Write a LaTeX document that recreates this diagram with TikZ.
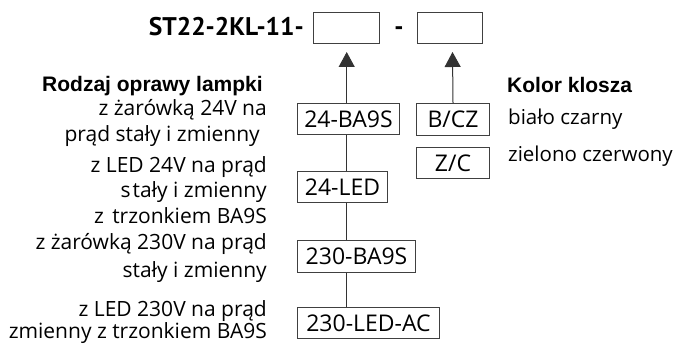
\documentclass[tikz,border=0pt]{standalone}
\usepackage{fontspec}
\setmainfont{Open Sans}
\newfontfamily\headfont{Liberation Sans}
\newfontfamily\titlefam{PT Sans}
\usetikzlibrary{arrows.meta}
\begin{document}
\begin{tikzpicture}[x=1pt,y=-1pt,
  box/.style={draw=black!75, line width=1pt, inner sep=0pt, anchor=north west, text=black, font=\fontsize{23}{23}\selectfont},
  lbl/.style={anchor=base east, inner sep=0pt, text=black, font=\fontsize{21}{21}\selectfont},
  rlbl/.style={anchor=base west, inner sep=0pt, text=black, font=\fontsize{20.5}{20.5}\selectfont},
  head/.style={anchor=base west, inner sep=0pt, text=black, font=\headfont\bfseries\fontsize{21}{21}\selectfont},
  titlefont/.style={inner sep=0pt, text=black, font=\titlefam\bfseries\fontsize{25.5}{25.5}\selectfont},
  conn/.style={draw=black!80, line width=1pt},
  arr/.style={conn, -{Triangle[length=15pt,width=16pt]}}]
\useasboundingbox (0,0) rectangle (676,344);

% title and slots
\node[titlefont, anchor=base east] (title) at (304,36) {ST22-2KL-11-};
\node[box, minimum width=66pt, minimum height=31pt] (slot1) at (313,12) {};
\node[titlefont, anchor=base] (dash) at (399,36) {-};
\node[box, minimum width=65pt, minimum height=31pt] (slot2) at (417,12) {};

% headings
\node[head] (h1) at (42,92) {Rodzaj oprawy lampki};
\node[head] (h2) at (507,93) {Kolor klosza};

% code boxes
\node[box, minimum width=102pt, minimum height=31pt] (ba) at (297,103) {24-BA9S};
\node[box, minimum width=90pt, minimum height=31pt] (led) at (297,171) {24-LED};
\node[box, minimum width=118pt, minimum height=32pt] (ba230) at (297,240) {230-BA9S};
\node[box, minimum width=142pt, minimum height=31pt] (led230) at (297,307) {230-LED-AC};
\node[box, minimum width=73pt, minimum height=32pt] (bcz) at (416,103) {B/CZ};
\node[box, minimum width=73pt, minimum height=31pt] (zc) at (416,147) {Z/C};

% left descriptions
\node[lbl] (t1) at (267,116) {z żarówką 24V na};
\node[lbl] (t2) at (260,142) {prąd stały i zmienny};
\node[lbl] (t3) at (267,173) {z LED 24V na prąd};
\node[lbl] (t4) at (267,198) {s\kern2pt tały i zmienny};
\node[lbl] (t5) at (267,224) {z\kern3pt\ trzonkiem BA9S};
\node[lbl] (t6) at (267,250) {z żarówką 230V na prąd};
\node[lbl] (t7) at (267,277) {stały i zmienny};
\node[lbl] (t8) at (267,316) {z LED 230V na prąd};
\node[lbl] (t9) at (267,338) {zmienny z trzonkiem BA9S};

% right descriptions
\node[rlbl] (c1) at (508,125) {biało czarny};
\node[rlbl] (c2) at (508,162) {zielono czerwony};

% connectors
\coordinate (col) at (346.7,0);
\coordinate (tip1) at (346.7,52);
\coordinate (tip2) at (452.5,52);
\draw[arr] (ba.north -| col) -- (tip1);
\draw[arr] (bcz.north) -- (tip2);
\draw[conn] (ba.south -| col) -- (led.north -| col);
\draw[conn] (led.south -| col) -- (ba230.north -| col);
\draw[conn] (ba230.south -| col) -- (led230.north -| col);
\end{tikzpicture}
\end{document}
